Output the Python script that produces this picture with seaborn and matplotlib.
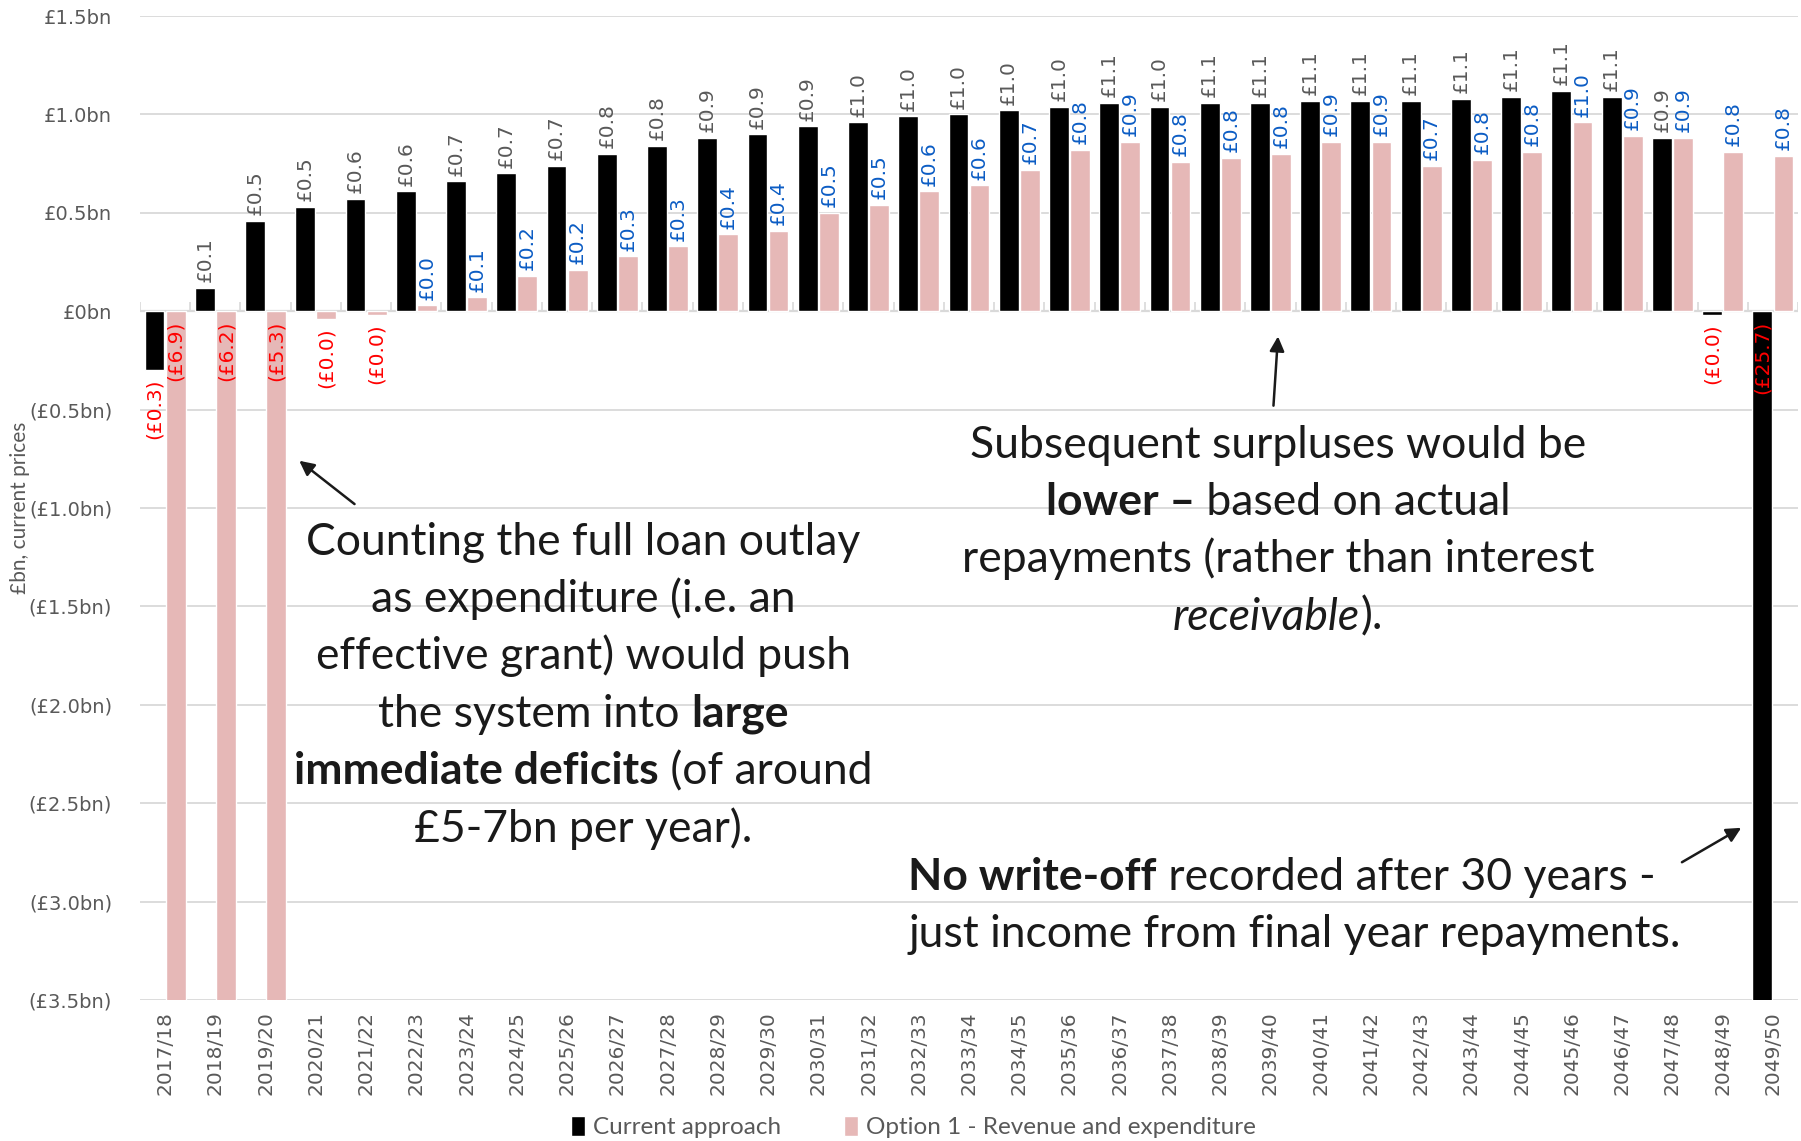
import numpy as np
import pandas as pd
import matplotlib
matplotlib.use("Agg")
import matplotlib.pyplot as plt
import seaborn as sns
from matplotlib.font_manager import FontProperties
from matplotlib.transforms import IdentityTransform

# ---- data (£bn, current prices) ----
years = ["2017/18", "2018/19", "2019/20", "2020/21", "2021/22", "2022/23", "2023/24",
         "2024/25", "2025/26", "2026/27", "2027/28", "2028/29", "2029/30", "2030/31",
         "2031/32", "2032/33", "2033/34", "2034/35", "2035/36", "2036/37", "2037/38",
         "2038/39", "2039/40", "2040/41", "2041/42", "2042/43", "2043/44", "2044/45",
         "2045/46", "2046/47", "2047/48", "2048/49", "2049/50"]

current_approach = [-0.30, 0.12, 0.46, 0.53, 0.57, 0.61, 0.66, 0.70, 0.74, 0.80, 0.84,
                    0.88, 0.90, 0.94, 0.96, 0.99, 1.00, 1.02, 1.04, 1.06, 1.04, 1.06,
                    1.06, 1.07, 1.07, 1.07, 1.08, 1.09, 1.12, 1.09, 0.88, -0.02, -25.7]

option_1 = [-6.9, -6.2, -5.3, -0.04, -0.02, 0.03, 0.07, 0.18, 0.21, 0.28, 0.33,
            0.39, 0.41, 0.50, 0.54, 0.61, 0.64, 0.72, 0.82, 0.86, 0.76, 0.78,
            0.80, 0.86, 0.86, 0.74, 0.77, 0.81, 0.96, 0.89, 0.88, 0.81, 0.79]

series_names = ["Current approach", "Option 1 - Revenue and expenditure"]
y_ticks = [1.5, 1.0, 0.5, 0.0, -0.5, -1.0, -1.5, -2.0, -2.5, -3.0, -3.5]

# ---- styling ----
BLACK = "#000000"
PINK = "#E6B8B7"
GREY_TXT = "#595959"
BLUE_TXT = "#0B5CC4"
RED_TXT = "#FF0000"
GRID = "#D9D9D9"
NOTE = "#1A1A1A"
NOTE_FONT = "Lato"

sns.set_theme(style="white")
plt.rcParams["font.family"] = ["DejaVu Sans"]

W, H = 1801, 1141
fig = plt.figure(figsize=(W / 100, H / 100), dpi=100)
ax = fig.add_axes([140 / W, 1 - 1000 / H, (1798 - 140) / W, (1000 - 16) / H])

df = pd.DataFrame({
    "year": years * 2,
    "value": current_approach + option_1,
    "series": [series_names[0]] * len(years) + [series_names[1]] * len(years),
})

sns.barplot(data=df, x="year", y="value", hue="series", hue_order=series_names,
            palette=[BLACK, PINK], saturation=1, width=0.84, gap=0.06,
            ax=ax, zorder=2)

ymin, ymax = -3.5, 1.5
ax.set_xlim(-0.5, len(years) - 0.5)
ax.set_ylim(ymin, ymax)

# axes cosmetics
for s in ax.spines.values():
    s.set_visible(False)
ax.set_yticks(y_ticks)


def fmt_axis(v):
    if abs(v) < 1e-9:
        return "£0bn"
    if v > 0:
        return f"£{v:.1f}bn"
    return f"(£{abs(v):.1f}bn)"


ax.set_yticklabels([fmt_axis(v) for v in y_ticks])
ax.yaxis.grid(True, color=GRID, lw=1.3, zorder=0)
ax.set_axisbelow(True)
ax.axhline(0, color=GRID, lw=1.6, zorder=1)
ax.vlines(np.arange(-0.5, len(years)), 0, 0.045, color=GRID, lw=1.2, zorder=1)
ax.tick_params(axis="y", length=0, pad=20, labelsize=14, labelcolor=GREY_TXT)
ax.tick_params(axis="x", length=0, pad=8, labelsize=14.5, labelcolor=GREY_TXT,
               rotation=90)
ax.set_xlabel("")
ax.set_ylabel("")

fig.text(19.5 / W, 0.555, "£bn, current prices", rotation=90, ha="center",
         va="center", fontsize=15, color=GREY_TXT, family=NOTE_FONT)

# legend under the chart
handles, labels = ax.get_legend_handles_labels()
if ax.get_legend() is not None:
    ax.get_legend().remove()
fig.legend(handles, labels, loc="center", bbox_to_anchor=(0.507, 0.0125), ncol=2,
           frameon=False, prop=FontProperties(family=NOTE_FONT, size=17.5),
           labelcolor=GREY_TXT, handlelength=0.6, handleheight=0.9,
           handletextpad=0.3, columnspacing=2.6)


# ---- value labels ----
def fmt_val(v):
    return f"£{v:.1f}" if v >= 0 else f"(£{abs(v):.1f})"


LBL = 14.5
for cont, vals, pos_col in zip(ax.containers, [current_approach, option_1],
                               [GREY_TXT, BLUE_TXT]):
    for rect, v in zip(cont.patches, vals):
        xc = rect.get_x() + rect.get_width() / 2
        if v >= 0:
            ax.annotate(fmt_val(v), xy=(xc, v), xytext=(0, 4), textcoords="offset points",
                        rotation=90, ha="center", va="bottom", fontsize=LBL,
                        color=pos_col, zorder=4)
        elif v < ymin:
            ax.annotate(fmt_val(v), xy=(xc, 0), xytext=(0, -7), textcoords="offset points",
                        rotation=90, ha="center", va="top", fontsize=LBL,
                        color=RED_TXT, zorder=4)
        else:
            ax.annotate(fmt_val(v), xy=(xc, v), xytext=(0, -6), textcoords="offset points",
                        rotation=90, ha="center", va="top", fontsize=LBL,
                        color=RED_TXT, zorder=4)

# ---- commentary with mixed weights ----
renderer = fig.canvas.get_renderer()
NOTE_SIZE = 32
LINE_H = 57.4  # pixels between lines

FP = {
    "n": FontProperties(family=NOTE_FONT, size=NOTE_SIZE),
    "b": FontProperties(family=NOTE_FONT, size=NOTE_SIZE, weight="bold"),
    "i": FontProperties(family=NOTE_FONT, size=NOTE_SIZE, style="italic"),
}


def text_width(s, fp):
    a, _, _ = renderer.get_text_width_height_descent(s + "|", fp, ismath=False)
    b, _, _ = renderer.get_text_width_height_descent("|", fp, ismath=False)
    return a - b


def rich_block(lines, x, y, align="center"):
    px, py = ax.transData.transform((x, y))
    n = len(lines)
    em = NOTE_SIZE * 100 / 72
    for i, line in enumerate(lines):
        widths = [text_width(s, FP[st]) for s, st in line]
        total = sum(widths)
        cx = px - total / 2 if align == "center" else px
        base = py + (n - 1) / 2 * LINE_H - i * LINE_H - 0.36 * em
        for (s, st), w in zip(line, widths):
            fig.text(cx, base, s, transform=IdentityTransform(), fontproperties=FP[st],
                     color=NOTE, ha="left", va="baseline", zorder=5)
            cx += w


rich_block([
    [("Counting the full loan outlay", "n")],
    [("as expenditure (i.e. an", "n")],
    [("effective grant) would push", "n")],
    [("the system into ", "n"), ("large", "b")],
    [("immediate deficits", "b"), (" (of around", "n")],
    [("£5-7bn per year).", "n")],
], 8.32, -1.885)

rich_block([
    [("Subsequent surpluses would be", "n")],
    [("lower –", "b"), (" based on actual", "n")],
    [("repayments (rather than interest", "n")],
    [("receivable", "i"), (").", "n")],
], 22.15, -1.10)

rich_block([
    [("No write-off", "b"), (" recorded after 30 years -", "n")],
    [("just income from final year repayments.", "n")],
], 14.79, -3.005, align="left")

arrow = dict(arrowstyle="-|>", color=NOTE, lw=1.8, mutation_scale=22,
             shrinkA=0, shrinkB=0)
ax.annotate("", xy=(2.67, -0.76), xytext=(3.77, -0.98), arrowprops=arrow, zorder=5)
ax.annotate("", xy=(22.15, -0.128), xytext=(22.06, -0.48), arrowprops=arrow, zorder=5)
ax.annotate("", xy=(31.37, -2.625), xytext=(30.19, -2.80), arrowprops=arrow, zorder=5)

fig.savefig("out.png", dpi=100)
